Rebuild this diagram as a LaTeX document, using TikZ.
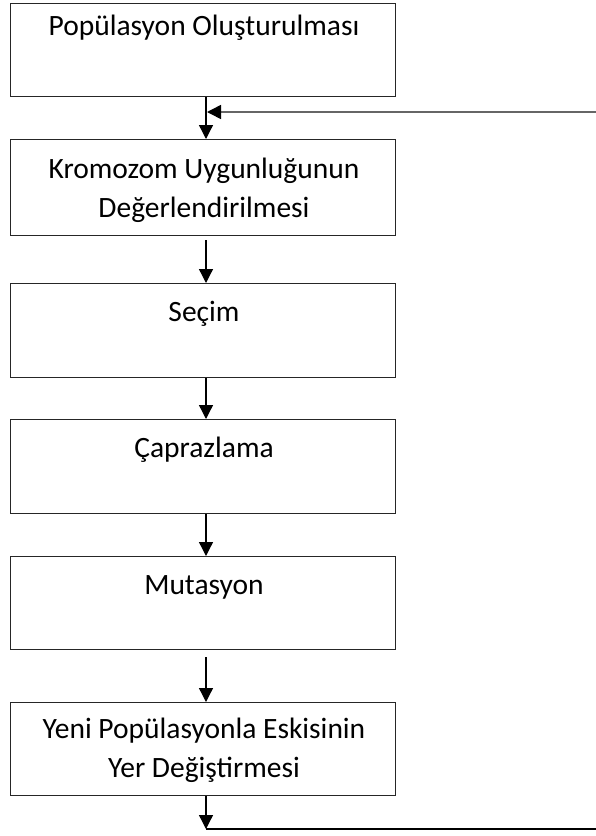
\documentclass[tikz,border=0pt]{standalone}
\usepackage{fontspec}
\setmainfont{Carlito}
\usetikzlibrary{arrows.meta}
\begin{document}
\begin{tikzpicture}[x=1pt,y=-1pt,
  stepbox/.style={draw=black!85,line width=1.4pt,minimum width=385.5pt,inner sep=0pt,anchor=north west},
  steptext/.style={anchor=base,align=center,font=\fontsize{29.5}{39}\selectfont,inner sep=0pt},
  flow/.style={line width=1.3pt,-{Triangle[length=14pt,width=14pt,color=black]}},
  back/.style={line width=1.5pt,draw=black!60}]
\useasboundingbox (0,0) rectangle (596,836);
\node[stepbox,minimum height=92.5pt] (b1) at (9.5,3) {};
\node[stepbox,minimum height=96pt] (b2) at (9.5,139) {};
\node[stepbox,minimum height=94pt] (b3) at (9.5,283) {};
\node[stepbox,minimum height=94pt] (b4) at (9.5,419) {};
\node[stepbox,minimum height=93pt] (b5) at (9.5,556) {};
\node[stepbox,minimum height=93pt] (b6) at (9.5,702) {};
\node[steptext] (t1) at (204,35) {Popülasyon Oluşturulması};
\node[steptext] (t2) at (204,217) {Kromozom Uygunluğunun\\Değerlendirilmesi};
\node[steptext] (t3) at (204,321) {Seçim};
\node[steptext] (t4) at (204,457) {Çaprazlama};
\node[steptext] (t5) at (204,594) {Mutasyon};
\node[steptext] (t6) at (204,777) {Yeni Popülasyonla Eskisinin\\Yer Değiştirmesi};
\coordinate (fb) at (596,112);
\coordinate (fbend) at (207,112);
\coordinate (bot) at (206,829);
\coordinate (botr) at (596,829);
\draw[flow] (b1.south -| bot) -- (b2.north -| bot);
\draw[flow,back] (fb) -- (fbend);
\draw[flow,shorten <=4pt] (b2.south -| bot) -- (b3.north -| bot);
\draw[flow] (b3.south -| bot) -- (b4.north -| bot);
\draw[flow] (b4.south -| bot) -- (b5.north -| bot);
\draw[flow,shorten <=7pt] (b5.south -| bot) -- (b6.north -| bot);
\draw[flow] (b6.south -| bot) -- (bot);
\draw[line width=1.3pt] (bot) -- (botr);
\end{tikzpicture}
\end{document}
